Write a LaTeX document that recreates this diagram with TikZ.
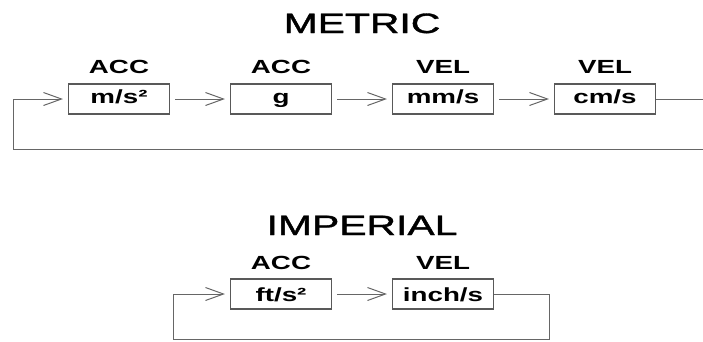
\documentclass[tikz,border=0pt]{standalone}
\usepackage{fontspec}
\setmainfont{Liberation Sans}
% slightly heavier face for the two headings
\newfontfamily\headfont[FakeBold=1.2]{Liberation Sans}
\usepackage{graphicx}
\usetikzlibrary{arrows.meta}
% lettering is set wide
\newcommand\widetxt[1]{\scalebox{1.46}[1]{#1}}
\tikzset{
  unitbox/.style={draw=black!65, line width=1.1pt, minimum width=101pt, minimum height=30pt, inner sep=0pt},
  qty/.style={anchor=base, inner sep=0pt, font=\fontsize{19}{22}\selectfont\bfseries},
  heading/.style={anchor=base, inner sep=0pt, font=\headfont\fontsize{28}{32}\selectfont},
  flow/.style={draw=black!60, line width=1pt},
  feed/.style={flow, -{Straight Barb[length=18pt,width=13pt]}, shorten >=5pt},
}
\begin{document}
\begin{tikzpicture}[x=1pt,y=-1pt]
\clip (0,0) rectangle (703,341);

% ---- metric chain ----
\node[heading] (tm) at (362,33) {\widetxt{METRIC}};
\node[unitbox] (m1) at (119,99) {};
\node[unitbox] (m2) at (281,99) {};
\node[unitbox] (m3) at (443,99) {};
\node[unitbox] (m4) at (605,99) {};
\node[qty] (m1u) at (119,103) {\widetxt{m/s²}};
\node[qty] (m2u) at (281,103) {\widetxt{g}};
\node[qty] (m3u) at (443,103) {\widetxt{mm/s}};
\node[qty] (m4u) at (605,103) {\widetxt{cm/s}};
\node[qty] (m1q) at (119,73) {\widetxt{ACC}};
\node[qty] (m2q) at (281,73) {\widetxt{ACC}};
\node[qty] (m3q) at (443,73) {\widetxt{VEL}};
\node[qty] (m4q) at (605,73) {\widetxt{VEL}};

\draw[feed, shorten <=5pt] (m1) -- (m2);
\draw[feed, shorten <=5pt] (m2) -- (m3);
\draw[feed, shorten <=5pt] (m3) -- (m4);
\coordinate (mr1) at (712,99);
\coordinate (mr2) at (712,149);
\coordinate (ml) at (13,149);
\draw[feed] (m4.east) -- (mr1) -- (mr2) -- (ml) |- (m1.west);

% ---- imperial chain ----
\node[heading] (ti) at (362,235) {\widetxt{IMPERIAL}};
\node[unitbox] (i1) at (281,294) {};
\node[unitbox] (i2) at (443,294) {};
\node[qty] (i1u) at (281,301) {\widetxt{ft/s²}};
\node[qty] (i2u) at (443,301) {\widetxt{inch/s}};
\node[qty] (i1q) at (281,269) {\widetxt{ACC}};
\node[qty] (i2q) at (443,269) {\widetxt{VEL}};

\draw[feed, shorten <=5pt] (i1) -- (i2);
\coordinate (ir1) at (549,294);
\coordinate (ir2) at (549,339);
\coordinate (il) at (173,339);
\draw[feed] (i2.east) -- (ir1) -- (ir2) -- (il) |- (i1.west);
\end{tikzpicture}
\end{document}
